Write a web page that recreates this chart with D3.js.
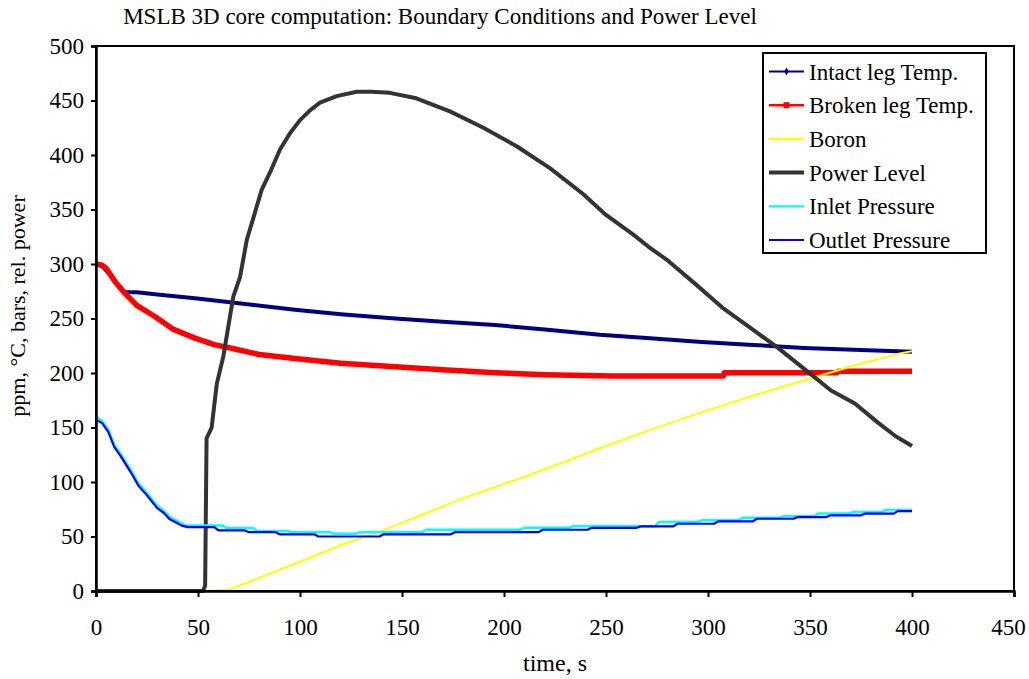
<!DOCTYPE html>
<html>
<head>
<meta charset="utf-8">
<script src="https://cdn.jsdelivr.net/npm/d3@7"></script>
<style>
  body { margin: 0; background: #fff; }
  svg text { font-family: 'Liberation Serif', 'Times New Roman', Times, 'DejaVu Serif', serif; fill: #000; }
</style>
</head>
<body>
<div id="chart"></div>
<script>
// values
const seriesNames = ["Intact leg Temp.", "Broken leg Temp.", "Boron", "Power Level", "Inlet Pressure", "Outlet Pressure"];

const intactT = [0, 3, 7, 10, 14, 20, 30, 48.5, 70, 97.5, 120, 146.6, 170, 195.6, 220, 247, 270, 297, 320, 347, 375, 400];
const intactV = [300, 298, 290, 282, 274, 274, 272, 268.6, 264, 258, 254, 250, 247, 244, 240, 235, 232, 228.5, 226, 223, 221, 219.5];

const brokenT = [0, 3, 5, 9.3, 14.2, 20, 29, 38, 48.5, 58, 68, 80, 97.5, 120, 146.6, 170, 195.6, 220, 252.8, 280, 307.5, 308, 340, 363, 364, 400];
const brokenV = [300, 299, 296, 284, 273, 262, 251.6, 240, 232, 226, 222, 217, 213.4, 209, 205.7, 203, 200.2, 198.5, 197.2, 197.2, 197.2, 200.2, 200.2, 200.2, 201.7, 201.7];

const boronT = [0, 53, 65, 80, 97.5, 120, 138.4, 160, 179.3, 212, 247, 272, 296, 320, 345, 370, 394, 400];
const boronV = [0, 0, 1, 12, 25, 42, 54, 70, 84.7, 106, 131, 148, 163.4, 178, 192, 206, 218, 220];

const powerT = [0, 52.5, 53.5, 54.2, 56.7, 59.2, 62.4, 67.3, 70.6, 73.9, 76.3, 81.2, 85.3, 90.2, 95.1, 100, 104.9, 109.8, 118, 127.8, 135, 144, 157, 173.5, 189.9, 206.2, 222.5, 238.9, 250, 263.4, 270.7, 280.4, 293.6, 307, 320.3, 333.7, 347, 360.3, 372, 383.6, 392, 400];
const powerV = [0, 0, 5, 140, 150, 190, 215, 270, 288, 322, 337, 368, 384, 405, 420, 432, 441, 448, 454, 458, 458, 457, 452, 440, 425, 408, 388, 364, 345, 327, 316, 303, 282, 260, 242, 224, 204, 184, 172, 154, 142, 133];

const inletT = [0, 3, 6, 9, 12, 15, 18, 21, 24, 27, 30, 33, 36, 39, 42, 44, 62, 64, 77, 79, 94, 96, 114.5, 116.5, 127.5, 129.5, 160, 162, 208, 210, 232, 234, 274, 276, 295, 297, 315, 317, 335, 337, 352, 354, 369, 371, 385, 387, 400];
const inletV = [160, 156, 148, 134, 126, 117, 108, 98, 92, 85, 78, 74, 68, 65, 62, 60, 60, 57.7, 57.7, 55, 55, 54, 54, 52.6, 52.6, 54, 54, 56.2, 56.2, 58, 58, 59.5, 59.5, 63.3, 63.3, 64.8, 64.8, 67.3, 67.3, 68.5, 68.5, 71, 71, 72.4, 72.4, 74.3, 74.3];

const outletT = [0, 3, 6, 9, 12, 15, 18, 21, 24, 27, 30, 33, 36, 39, 42, 45, 58, 60, 73, 75, 88, 90, 107, 109, 139, 141, 174, 176, 217, 219, 241, 243, 265, 267, 283, 285, 303, 305, 322, 324, 342, 344, 358, 360, 375, 377, 391, 393, 400];
const outletV = [157, 154, 146, 132, 124, 115, 106, 96, 90, 83, 76, 72, 66, 63, 60, 58.6, 58.6, 55.6, 55.6, 54, 54, 52, 52, 50, 50, 52, 52, 54, 54, 56.2, 56.2, 58, 58, 59.3, 59.3, 61.7, 61.7, 63.9, 63.9, 66.3, 66.3, 67.8, 67.8, 69.4, 69.4, 71, 71, 73.3, 73.3];

const xTicks = [0, 50, 100, 150, 200, 250, 300, 350, 400, 450];
const yTicks = [0, 50, 100, 150, 200, 250, 300, 350, 400, 450, 500];

const width = 1029, height = 679;
const margin = {left: 96, right: 15, top: 46, bottom: 88};
const fontStack = "'Liberation Serif', 'Times New Roman', Times, 'DejaVu Serif', serif";

const colors = ["#000080", "#ff0000", "#ffff00", "#333333", "#00ffff", "#0000ff"];
const widths = [4, 5.5, 2, 4, 2.5, 2.2];

const zip = (ts, vs) => ts.map((t, i) => ({t: t, v: vs[i]}));
const series = [
  zip(intactT, intactV), zip(brokenT, brokenV), zip(boronT, boronV),
  zip(powerT, powerV), zip(inletT, inletV), zip(outletT, outletV)
];

const x = d3.scaleLinear().domain([0, 450]).range([margin.left, width - margin.right]);
const y = d3.scaleLinear().domain([0, 500]).range([height - margin.bottom, margin.top]);

const svg = d3.select('#chart').append('svg')
  .attr('width', width)
  .attr('height', height);

svg.append('rect').attr('width', width).attr('height', height).attr('fill', '#fff');

// title
svg.append('text')
  .attr('x', 440).attr('y', 24)
  .attr('text-anchor', 'middle')
  .style('font-size', '23px')
  .text('MSLB 3D core computation: Boundary Conditions and Power Level');

// lines
const line = d3.line().x(d => x(d.t)).y(d => y(d.v));
const lines = svg.append('g');
series.forEach((s, i) => {
  lines.append('path')
    .attr('d', line(s))
    .attr('fill', 'none')
    .attr('stroke', colors[i])
    .attr('stroke-width', widths[i])
    .attr('stroke-linejoin', 'round');
});

// frame
svg.append('rect')
  .attr('x', x(0)).attr('y', y(500))
  .attr('width', x(450) - x(0)).attr('height', y(0) - y(500))
  .attr('fill', 'none').attr('stroke', '#000').attr('stroke-width', 2);

// axes
const xAxis = svg.append('g')
  .attr('transform', `translate(0,${y(0)})`)
  .call(d3.axisBottom(x).tickValues(xTicks).tickSize(6).tickPadding(22).tickFormat(d3.format('d')));
const yAxis = svg.append('g')
  .attr('transform', `translate(${x(0)},0)`)
  .call(d3.axisLeft(y).tickValues(yTicks).tickSize(5).tickPadding(7).tickFormat(d3.format('d')));
[xAxis, yAxis].forEach(a => {
  a.select('.domain').attr('stroke-width', 2.5);
  a.selectAll('.tick line').attr('stroke-width', 2);
  a.selectAll('.tick text')
    .style('font-family', fontStack)
    .style('font-size', '23px');
});
// keep the last x label inside the page
xAxis.selectAll('.tick text').filter(d => d === 450).attr('dx', -6);

// axis titles
svg.append('text')
  .attr('x', 555).attr('y', 671)
  .attr('text-anchor', 'middle')
  .style('font-size', '24px')
  .text('time, s');
svg.append('text')
  .attr('transform', 'translate(25,306) rotate(-90)')
  .attr('text-anchor', 'middle')
  .style('font-size', '22px')
  .text('ppm, °C, bars, rel. power');

// legend
const legend = svg.append('g');
legend.append('rect')
  .attr('x', 763).attr('y', 53).attr('width', 223).attr('height', 200)
  .attr('fill', '#fff').attr('stroke', '#000').attr('stroke-width', 2);
const rows = legend.selectAll('g.row').data(seriesNames).enter()
  .append('g').attr('class', 'row')
  .attr('transform', (d, i) => `translate(769,${71.5 + i * 33.7})`);
rows.append('line')
  .attr('x1', 0).attr('x2', 35)
  .attr('stroke', (d, i) => colors[i])
  .attr('stroke-width', (d, i) => i === 1 ? 2.5 : (i === 3 ? 4 : 2.2));
rows.filter((d, i) => i === 0).append('path')
  .attr('d', d3.symbol(d3.symbolDiamond, 18)).attr('transform', 'translate(17.5,0)')
  .attr('fill', colors[0]);
rows.filter((d, i) => i === 1).append('rect')
  .attr('x', 14.5).attr('y', -3).attr('width', 6).attr('height', 6)
  .attr('fill', colors[1]);
rows.append('text')
  .attr('x', 40).attr('y', 8)
  .style('font-size', '23px')
  .text(d => d);
</script>
</body>
</html>
